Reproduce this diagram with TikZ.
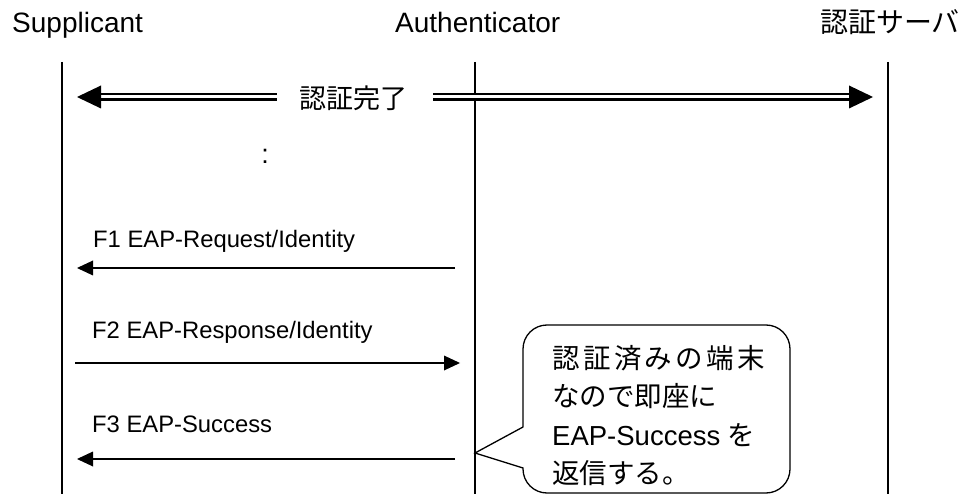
\documentclass[tikz,border=0pt]{standalone}
\usepackage{fontspec}
\setmainfont{Liberation Sans}
\newfontfamily\jp{Noto Sans CJK JP}
\begin{document}
\begin{tikzpicture}[x=1pt,y=-1pt,
  head/.style={font=\fontsize{28}{32}\selectfont, anchor=base west, inner sep=0},
  msg/.style={font=\fontsize{23.8}{28}\selectfont, anchor=base west, inner sep=0},
  note/.style={font=\fontsize{27.5}{32}\selectfont, anchor=base west, inner sep=0},
  life/.style={line width=1.2pt},
  arr/.style={line width=1.6pt},
  dbl/.style={double, double distance=3pt, line width=2.2pt},
  tip/.style={fill=black, draw=none}]
\useasboundingbox (0,0) rectangle (964,494);
\clip (0,0) rectangle (964,494);
% headers
\node[head] (sup) at (12,33) {Supplicant};
\node[head] (auth) at (395,33) {Authenticator};
\node[head] (srv) at (820,33) {\jp 認証サーバ};
% lifelines
\coordinate (s0) at (62,62); \coordinate (s1) at (62,494);
\coordinate (a0) at (475,62); \coordinate (a1) at (475,494);
\coordinate (v0) at (888,62); \coordinate (v1) at (888,494);
\draw[life] (s0) -- (s1);
\draw[life] (a0) -- (a1);
\draw[life] (v0) -- (v1);
% double arrow
\node[font=\fontsize{27}{30}\selectfont\jp, inner sep=0] (done) at (353,98) {認証完了};
\coordinate (dl) at (77,97); \coordinate (dr) at (873,97);
\coordinate (dlb) at (99,97); \coordinate (drb) at (851,97);
\coordinate (gl) at (277,97); \coordinate (gr) at (433,97);
\draw[dbl] (dlb) -- (gl);
\draw[dbl] (gr) -- (drb);
\fill[tip] (dl) -- (101,85.5) -- (101,108.5) -- cycle;
\fill[tip] (dr) -- (849,85.5) -- (849,108.5) -- cycle;
\node[font=\fontsize{27}{30}\selectfont, inner sep=0] (dots) at (265,156) {:};
% messages
\node[msg] (f1) at (93,248) {F1 EAP-Request/Identity};
\coordinate (f1a) at (455,268); \coordinate (f1b) at (77,268);
\draw[arr] (f1a) -- (92,268);
\fill[tip] (f1b) -- (93,260.5) -- (93,275.5) -- cycle;
\node[msg] (f2) at (92,338) {F2 EAP-Response/Identity};
\coordinate (f2a) at (75,363); \coordinate (f2b) at (460,363);
\draw[arr] (f2a) -- (445,363);
\fill[tip] (f2b) -- (444,355.5) -- (444,370.5) -- cycle;
\node[msg] (f3) at (92,432) {F3 EAP-Success};
\coordinate (f3a) at (455,459); \coordinate (f3b) at (77,459);
\draw[arr] (f3a) -- (92,459);
\fill[tip] (f3b) -- (93,451.5) -- (93,466.5) -- cycle;
% callout
\draw[line width=1.3pt, fill=white] (475,453) -- (523,427)
  [rounded corners=24pt] -- (523,325) -- (790,325) -- (790,493) -- (523,493)
  [sharp corners] -- (523,468) -- cycle;
\node[note] (n1) at (552,368) {\hbox to 213pt{\jp 認\hfill 証\hfill 済\hfill み\hfill の\hfill 端\hfill 末}};
\node[note] (n2) at (552,406) {\jp なので即座に};
\node[note] (n3) at (552,445) {EAP-Success {\jp を}};
\node[note] (n4) at (552,483) {\jp 返信する。};
\end{tikzpicture}
\end{document}
